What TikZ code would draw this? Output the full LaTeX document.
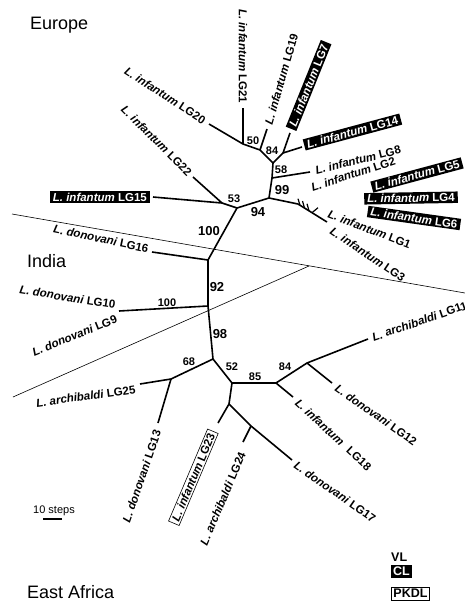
\documentclass[tikz,border=0pt]{standalone}
\usepackage{fontspec}
\setmainfont{Liberation Sans}

\newcommand{\Linf}{\textit{L. infantum}}
\newcommand{\Ldon}{\textit{L. donovani}}
\newcommand{\Larc}{\textit{L. archibaldi}}

\tikzset{
    branch/.style={line width=1.6pt, line join=round},
    border/.style={line width=0.6pt},
    taxon/.style={font=\fontsize{11.5}{13}\selectfont\bfseries, inner sep=1.5pt},
    cl/.style={taxon, fill=black, text=white, inner xsep=3pt},
    pkdl/.style={taxon, draw, line width=0.6pt, inner xsep=3pt},
    boot/.style={font=\fontsize{11}{12}\selectfont\bfseries, inner sep=0pt},
    bigboot/.style={font=\fontsize{13}{14}\selectfont\bfseries, inner sep=0pt},
    region/.style={font=\fontsize{18}{20}\selectfont, anchor=base west, inner sep=0pt},
    legend/.style={font=\fontsize{12.5}{14}\selectfont\bfseries, inner sep=2pt}
}

\begin{document}
\begin{tikzpicture}[x=1pt, y=-1pt]
    \useasboundingbox (0,0) rectangle (465,603);

    \coordinate (b1) at (12,214);
    \coordinate (b2) at (465,293);
    \coordinate (b3) at (13,397);
    \coordinate (b4) at (309,266);
    \draw[border] (b1) -- (b2);
    \draw[border] (b3) -- (b4);

    \coordinate (n1) at (243,144);
    \coordinate (n2) at (260,150);
    \coordinate (n3) at (273,163);
    \coordinate (n4) at (283,153);
    \coordinate (n5) at (272,178);
    \coordinate (n6) at (269,198);
    \coordinate (n7) at (237,208);
    \coordinate (n8) at (222,203);
    \coordinate (n9) at (208,260);
    \coordinate (n10) at (208,306);
    \coordinate (n11) at (213,359);
    \coordinate (n12) at (171,379);
    \coordinate (n13) at (232,383);
    \coordinate (n14) at (276,383);
    \coordinate (n15) at (307,363);
    \coordinate (n16) at (229,404);
    \coordinate (n17) at (251,426);
    \coordinate (n18) at (298,204);

    \coordinate (t21) at (243,108);
    \coordinate (t20) at (209,124);
    \coordinate (t19) at (267,129);
    \coordinate (t7) at (290,133);
    \coordinate (t14) at (302,147);
    \coordinate (t8) at (310,172);
    \coordinate (t1) at (327,222);
    \coordinate (t15) at (153,197);
    \coordinate (t22) at (193,177);
    \coordinate (t16) at (152,252);
    \coordinate (t10) at (119,311);
    \coordinate (t25) at (140,384);
    \coordinate (t13) at (158,423);
    \coordinate (t18) at (293,397);
    \coordinate (t11) at (368,339);
    \coordinate (t12) at (332,383);
    \coordinate (t23) at (218,423);
    \coordinate (t24) at (243,442);
    \coordinate (t17) at (292,460);

    \coordinate (k1) at (300,205.2);
    \coordinate (k2) at (304.5,208);
    \coordinate (k3) at (309,210.8);
    \coordinate (k4) at (312,212.7);

    \draw[branch] (t20) -- (n1) -- (n2) -- (n3) -- (n5) -- (n6) -- (n7) -- (n9)
        -- (n10) -- (n11) -- (n13) -- (n16) -- (n17) -- (t17);
    \draw[branch] (t21) -- (n1);
    \draw[branch] (t19) -- (n2);
    \draw[branch] (t7) -- (n4) -- (t14);
    \draw[branch] (n4) -- (n3);
    \draw[branch] (n5) -- (t8);
    \draw[branch] (n6) -- (n18) -- (t1);
    \draw[branch] (t15) -- (n8) -- (t22);
    \draw[branch] (n8) -- (n7);
    \draw[branch] (n9) -- (t16);
    \draw[branch] (n10) -- (t10);
    \draw[branch] (n11) -- (n12) -- (t25);
    \draw[branch] (n12) -- (t13);
    \draw[branch] (n13) -- (n14) -- (t18);
    \draw[branch] (n14) -- (n15) -- (t11);
    \draw[branch] (n15) -- (t12);
    \draw[branch] (n16) -- (t23);
    \draw[branch] (n17) -- (t24);
    \draw[branch, line width=1.2pt] (k1) -- ++(-2,-6.5);
    \draw[branch, line width=1.2pt] (k2) -- ++(-2,-7);
    \draw[branch, line width=1.2pt] (k3) -- ++(-2,-7);
    \draw[branch, line width=1.2pt] (k4) -- ++(6,-5);

    \node[taxon, rotate=-90, anchor=east] (lg21) at (243,105) {\Linf{} LG21};
    \node[taxon, rotate=74, anchor=west] (lg19) at (268,126) {\Linf{} LG19};
    \node[cl, rotate=68, anchor=west] (lg7) at (291,129) {\Linf{} LG7};
    \node[cl, rotate=15, anchor=west] (lg14) at (304,145) {\Linf{} LG14};
    \node[taxon, rotate=-33, anchor=east] (lg20) at (206,122) {\Linf{} LG20};
    \node[taxon, rotate=-45, anchor=east] (lg22) at (191,175) {\Linf{} LG22};
    \node[cl, anchor=east] (lg15) at (150,197) {\Linf{} LG15};
    \node[taxon, rotate=-12, anchor=east] (lg16) at (150,249) {\Ldon{} LG16};
    \node[taxon, rotate=-9, anchor=east] (lg10) at (117,305) {\Ldon{} LG10};
    \node[taxon, rotate=22, anchor=east] (lg9) at (118,318) {\Ldon{} LG9};
    \node[taxon, rotate=8, anchor=east] (lg25) at (137,389) {\Larc{} LG25};
    \node[taxon, rotate=71, anchor=east] (lg13) at (158,429) {\Ldon{} LG13};
    \node[pkdl, rotate=67, anchor=east] (lg23) at (213,431) {\Linf{} LG23};
    \node[taxon, rotate=67, anchor=east] (lg24) at (243,451) {\Larc{} LG24};
    \node[taxon, rotate=-35, anchor=west] (lg17) at (294,463) {\Ldon{} LG17};
    \node[taxon, rotate=-43, anchor=west] (lg18) at (296,400) {\Linf\hspace{0.7em}LG18};
    \node[taxon, rotate=-35, anchor=west] (lg12) at (335,386) {\Ldon{} LG12};
    \node[taxon, rotate=19, anchor=west] (lg11) at (371,338) {\Larc{} LG11};
    \node[taxon, rotate=14, anchor=west] (lg8) at (314,171) {\Linf{} LG8};
    \node[taxon, rotate=18, anchor=west] (lg2) at (310,188) {\Linf{} LG2};
    \node[cl, rotate=15] (lg5) at (417,175) {\Linf{} LG5};
    \node[cl, rotate=1] (lg4) at (411,198) {\Linf{} LG4};
    \node[cl, rotate=-8] (lg6) at (414,218) {\Linf{} LG6};
    \node[taxon, rotate=-21, anchor=west] (lg1) at (327,213) {\Linf{} LG1};
    \node[taxon, rotate=-34, anchor=west] (lg3) at (330,229) {\Linf{} LG3};

    \node[boot] (bs50) at (253,141) {50};
    \node[boot] (bs84a) at (272,151) {84};
    \node[boot] (bs58) at (281,170) {58};
    \node[bigboot] (bs99) at (282,190) {99};
    \node[bigboot] (bs94) at (258,212) {94};
    \node[boot] (bs53) at (234,199) {53};
    \node[bigboot] (bs100a) at (209,231) {100};
    \node[bigboot] (bs92) at (217,287) {92};
    \node[boot] (bs100b) at (167,303) {100};
    \node[bigboot] (bs98) at (220,334) {98};
    \node[boot] (bs68) at (189,362) {68};
    \node[boot] (bs52) at (232,367) {52};
    \node[boot] (bs85) at (255,377) {85};
    \node[boot] (bs84b) at (285,367) {84};

    \node[region] (europe) at (30,29) {Europe};
    \node[region] (india) at (27,267) {India};
    \node[region] (africa) at (27,598) {East Africa};

    \node[font=\fontsize{11}{12}\selectfont, anchor=base west, inner sep=0pt] (steps) at (33,513) {10 steps};
    \coordinate (sb1) at (43,518.5);
    \coordinate (sb2) at (62,518.5);
    \draw[line width=2pt] (sb1) -- (sb2);

    \node[legend, anchor=base west, inner sep=0pt] (vl) at (391,561) {VL};
    \node[legend, fill=black, text=white] (cl) at (401.5,571.5) {CL};
    \node[legend, draw, line width=0.6pt] (pkdl) at (410.5,593.5) {PKDL};
\end{tikzpicture}
\end{document}
